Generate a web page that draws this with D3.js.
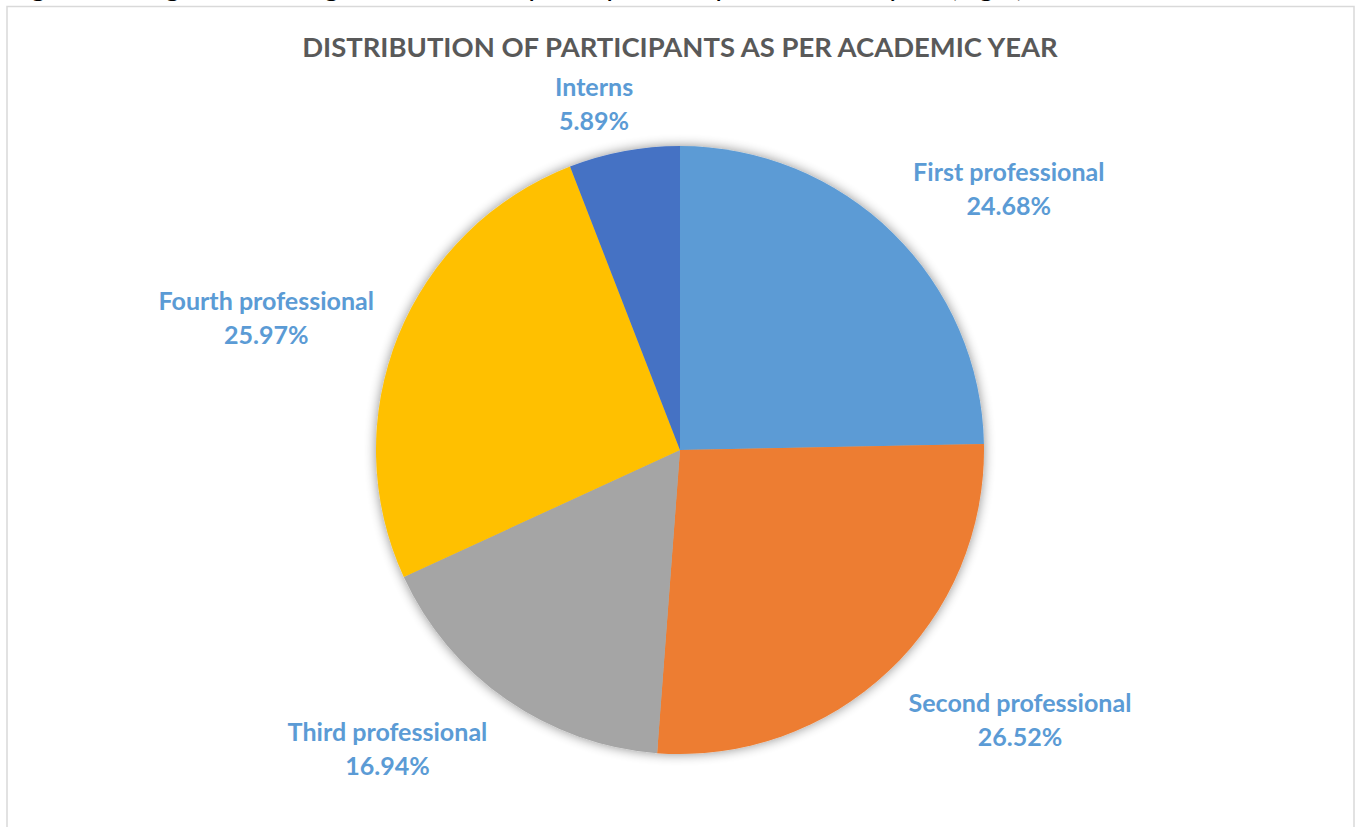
<!DOCTYPE html>
<html>
<head>
<meta charset="utf-8">
<script src="https://cdn.jsdelivr.net/npm/d3@7"></script>
<style>
  html, body { margin: 0; padding: 0; background: #ffffff; overflow: hidden; }
  svg { display: block; }
</style>
</head>
<body>
<svg id="chart" width="1356" height="827"></svg>
<script>
// ---- data ----
const categories = ["First professional", "Second professional", "Third professional", "Fourth professional", "Interns"];
const percentages = [24.68, 26.52, 16.94, 25.97, 5.89];
const percentLabels = ["24.68%", "26.52%", "16.94%", "25.97%", "5.89%"];
const chartTitle = "DISTRIBUTION OF PARTICIPANTS AS PER ACADEMIC YEAR";
const captionText = "Fig 1: Pie diagram showing distribution of participants as per academic year (Fig 1)";

// ---- layout / style (not data) ----
const sliceColors = ["#5B9BD5", "#ED7D31", "#A5A5A5", "#FFC000", "#4472C4"];
// label offsets from the outer-edge point at each slice's mid angle (px)
const labelOffsets = [[116, -43], [131, 50], [-119, 50], [-132, -17], [-30, -46]];

const svg = d3.select("#chart");
const W = 1356, H = 827;
const cx = 680, cy = 450, R = 304;

// defs: shadow
const defs = svg.append("defs");
const f = defs.append("filter").attr("id", "shadow")
  .attr("x", "-20%").attr("y", "-20%").attr("width", "140%").attr("height", "140%");
f.append("feGaussianBlur").attr("in", "SourceAlpha").attr("stdDeviation", 6).attr("result", "blur");
f.append("feComponentTransfer").attr("in", "blur").attr("result", "sh")
  .append("feFuncA").attr("type", "linear").attr("slope", 0.45);
const merge = f.append("feMerge");
merge.append("feMergeNode").attr("in", "sh");
merge.append("feMergeNode").attr("in", "SourceGraphic");

// caption line (cut off at top, as in the reference)
svg.append("text")
  .attr("x", 10).attr("y", -3)
  .attr("font-family", "Carlito, Calibri, 'Open Sans', sans-serif")
  .attr("font-size", 27)
  .attr("fill", "#000")
  .attr("textLength", 1015)
  .attr("lengthAdjust", "spacingAndGlyphs")
  .text(captionText);

// chart border
svg.append("rect")
  .attr("x", 7).attr("y", 6.5)
  .attr("width", 1347).attr("height", 900)
  .attr("fill", "none")
  .attr("stroke", "#D9D9D9")
  .attr("stroke-width", 1.5);

// title
const title = svg.append("text")
  .attr("x", cx).attr("y", 57)
  .attr("text-anchor", "middle")
  .attr("font-family", "Lato, 'Open Sans', sans-serif")
  .attr("font-weight", "bold")
  .attr("font-size", 26)
  .attr("fill", "#595959")
  .text(chartTitle);
{
  const w = title.node().getComputedTextLength();
  title.attr("font-size", 26 * 756 / w);
}

// pie
const pie = d3.pie().sort(null).value(d => d)(percentages);
const arc = d3.arc().innerRadius(0).outerRadius(R);

const g = svg.append("g").attr("transform", `translate(${cx},${cy})`);
g.append("g").attr("filter", "url(#shadow)")
  .selectAll("path")
  .data(pie)
  .join("path")
  .attr("d", arc)
  .attr("fill", (d, i) => sliceColors[i]);

// labels
const edgeArc = d3.arc().innerRadius(R).outerRadius(R);
const labelFont = "Lato, 'Open Sans', sans-serif";
const labels = g.append("g").selectAll("text")
  .data(pie)
  .join("text")
  .attr("text-anchor", "middle")
  .attr("font-family", labelFont)
  .attr("font-weight", "bold")
  .attr("font-size", 22)
  .attr("fill", "#5B9BD5")
  .attr("transform", (d, i) => {
    const [x, y] = edgeArc.centroid(d);
    return `translate(${x + labelOffsets[i][0]},${y + labelOffsets[i][1]})`;
  });
labels.append("tspan").attr("x", 0).attr("y", -9).text((d, i) => categories[i]);
labels.append("tspan").attr("x", 0).attr("y", 25).text((d, i) => percentLabels[i]);

// fit label font size: "Second professional" ~223px wide in reference
{
  const t = labels.filter((d, i) => i === 1).select("tspan").node();
  const w = t.getComputedTextLength();
  labels.attr("font-size", 22 * 223 / w);
}
</script>
</body>
</html>
